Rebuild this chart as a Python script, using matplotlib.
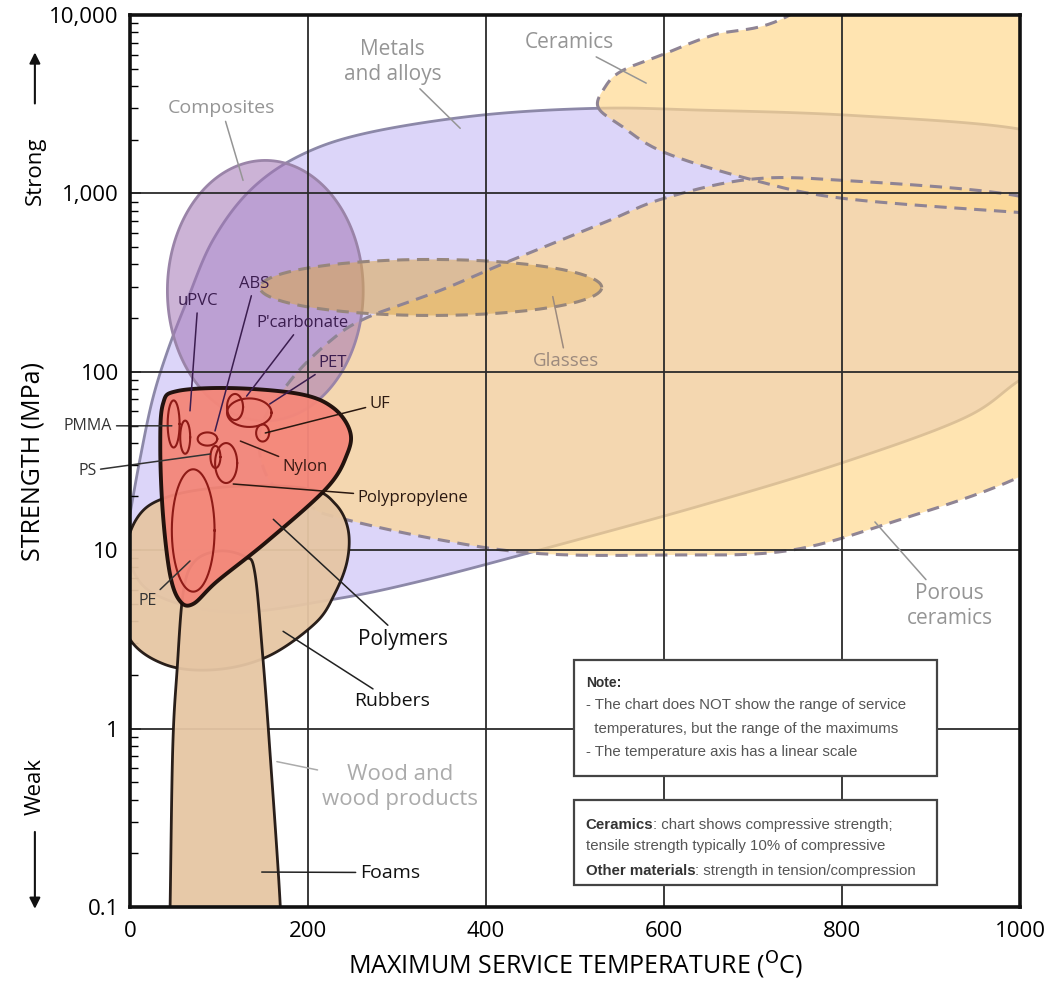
import numpy as np
import matplotlib
matplotlib.use('Agg')
import matplotlib.pyplot as plt
from matplotlib.patches import Rectangle

plt.rcParams['font.family'] = ['Open Sans', 'DejaVu Sans']

# outline points of the material regions: max service temperature (C), strength (MPa)
metals_t = [-6, 0, 11, 25, 42, 64, 93, 135, 191, 266, 393, 526, 640, 809, 1000, 1070,
            1070, 1000, 937, 801, 640, 456, 326, 228, 112, 22]
metals_s = [11, 16, 32, 69, 130, 250, 545, 1040, 1630, 2180, 2740, 3000, 2930, 2740, 2290, 1600,
            150, 90, 55, 31, 17.7, 9.9, 6.7, 5.3, 4.5, 5.9]

ceramics_t = [526, 551, 600, 697, 801, 1001, 1090, 1146, 865, 737, 656, 600, 552, 533]
ceramics_s = [3040, 2410, 1700, 1200, 938, 782, 751, 23200, 26000, 9740, 7730, 6040, 4840, 3890]

porous_t = [1001, 801, 697, 600, 536, 428, 348, 266, 225, 180, 146, 157, 202, 228,
            337, 456, 600, 737, 857, 1001, 1090, 1090]
porous_s = [962, 1183, 1200, 938, 697, 421, 285, 201, 149, 89, 46.7, 24.4, 17.7, 15.5,
            11.7, 9.6, 9.4, 9.9, 14.4, 26, 53, 620]

rubbers_t = [-11, 6, 45, 124, 202, 231, 245, 244, 230, 208, 155, 96, 39, -2]
rubbers_s = [6.7, 14.6, 20.1, 22.9, 22, 18.1, 13.1, 8.7, 5.7, 3.89, 2.54, 2.14, 2.29, 3.29]

wood_t = [43, 45, 48, 53, 60, 73, 101, 129, 140, 149, 157, 169, 171]
wood_s = [0.03, 0.0975, 0.773, 2.17, 5.89, 8.7, 9.9, 9.2, 7.6, 2.6, 0.77, 0.0975, 0.03]

polymers_t = [37, 53, 116, 191, 228, 247, 244, 221, 154, 98, 71, 56, 45, 37, 34]
polymers_s = [66, 78, 81, 75, 63, 46.7, 34.6, 22.3, 11.2, 6.7, 5.0, 5.2, 7.3, 15.9, 37.4]

# elliptical regions: centre temp, centre strength, half-width (C), half-height (decades)
composites_ell = (152, 285, 110, 0.73)
glasses_ell = (338, 297, 192, 0.157)

# individual polymers inside the polymer envelope
poly_t = [49, 62, 118, 134, 149, 87, 96, 108, 71]
poly_s = [51, 43, 63.5, 59, 45.4, 42, 33.3, 30.8, 12.9]
poly_dt = [6.7, 5.6, 9, 25, 7.3, 11, 5.6, 12.4, 24]
poly_dlog = [0.132, 0.093, 0.073, 0.08, 0.048, 0.037, 0.062, 0.112, 0.343]

y_ticks = [0.1, 1, 10, 100, 1000, 10000]
y_ticklabels = ['0.1', '1', '10', '100', '1,000', '10,000']
x_ticks = [0, 200, 400, 600, 800, 1000]


def smooth_closed(t, s, n=30):
    # closed catmull-rom curve through the points, in (temp, log strength) space
    P = np.column_stack([t, np.log10(s)])
    N = len(P)
    u = np.linspace(0, 1, n, endpoint=False)[:, None]
    segs = []
    for i in range(N):
        p0, p1, p2, p3 = P[i - 1], P[i], P[(i + 1) % N], P[(i + 2) % N]
        segs.append(0.5 * (2 * p1 + (-p0 + p2) * u + (2 * p0 - 5 * p1 + 4 * p2 - p3) * u ** 2
                           + (-p0 + 3 * p1 - 3 * p2 + p3) * u ** 3))
    c = np.vstack(segs + [segs[0][:1]])
    return c[:, 0], 10 ** c[:, 1]


def ellipse(t0, s0, a, b, n=200):
    th = np.linspace(0, 2 * np.pi, n)
    return t0 + a * np.cos(th), 10 ** (np.log10(s0) + b * np.sin(th))


fig = plt.figure(figsize=(10.57, 9.93), dpi=100)
ax = fig.add_axes([0.1230, 0.0866, 0.8420, 0.8983])
ax.set_yscale('log')
ax.set_xlim(0, 1000)
ax.set_ylim(0.1, 10000)

dash = (0, (4, 2.5))
yellow = (1.0, 0.85, 0.57, 0.7)

x, y = smooth_closed(metals_t, metals_s)
ax.fill(x, y, facecolor='#dcd5f9', edgecolor='#8c88a8', lw=2, zorder=1)

x, y = smooth_closed(porous_t, porous_s)
ax.fill(x, y, facecolor=yellow, edgecolor='none', zorder=1.5)
ax.plot(x, y, color='#8f8494', lw=2.2, ls=dash, zorder=3.4)

x, y = ellipse(*composites_ell)
ax.fill(x, y, facecolor=(0.64, 0.46, 0.71, 0.55), edgecolor='#9a84a8', lw=2, zorder=2)

x, y = smooth_closed(ceramics_t, ceramics_s)
ax.fill(x, y, facecolor=yellow, edgecolor='none', zorder=3.1)
ax.plot(x, y, color='#8f8494', lw=2.2, ls=dash, zorder=3.4)

x, y = ellipse(*glasses_ell)
ax.fill(x, y, facecolor=(0.86, 0.66, 0.30, 0.55), edgecolor='none', zorder=3.2)
ax.plot(x, y, color='#97867c', lw=2.2, ls=dash, zorder=3.4)

# grid
for v in x_ticks[1:-1]:
    ax.axvline(v, color='#2b2b2b', lw=1.3, zorder=3.5)
for v in y_ticks[1:-1]:
    ax.axhline(v, color='#2b2b2b', lw=1.3, zorder=3.5)

x, y = smooth_closed(rubbers_t, rubbers_s)
ax.fill(x, y, facecolor='#e6c6a4', edgecolor='#1e1410', lw=2, alpha=0.95, zorder=4)

x, y = smooth_closed(wood_t, wood_s)
ax.fill(x, y, facecolor='#e6c6a4', edgecolor='#1e1410', lw=2, alpha=0.95, zorder=5)

x, y = smooth_closed(polymers_t, polymers_s)
ax.fill(x, y, facecolor='#f4877a', edgecolor='#1a0c08', lw=2.8, alpha=0.96, zorder=6)

for t0, s0, a, b in zip(poly_t, poly_s, poly_dt, poly_dlog):
    x, y = ellipse(t0, s0, a, b)
    ax.plot(x, y, color='#8e1a16', lw=1.5, zorder=7)

# labels and leader lines: text, pointed location, label position, colour, size
grey = '#959595'
labels = [
    ('Metals\nand alloys', (371, 2317), (295, 5450), grey, 15),
    ('Ceramics', (580, 4150), (494, 6970), grey, 15),
    ('Composites', (127, 1183), (103, 3000), grey, 14),
    ('Glasses', (475, 264), (490, 115), '#9c8a7e', 13.5),
    ('Porous\nceramics', (837, 14.4), (921, 4.84), grey, 15),
    ('Wood and\nwood products', (165, 0.653), (303, 0.472), '#ababab', 16),
    ('Foams', (148, 0.157), (292, 0.156), '#111111', 14),
    ('Rubbers', (172, 3.51), (295, 1.42), '#111111', 14),
    ('Polymers', (161, 14.9), (307, 3.16), '#111111', 15),
    ('Polypropylene', (116, 23.5), (318, 19.6), '#2a1810', 12),
    ('Nylon', (124, 40.9), (197, 29.2), '#3a1a14', 12),
    ('UF', (152, 45.4), (281, 66.1), '#2a1810', 12),
    ('PET', (157, 66), (228, 112), '#3b1d4f', 12),
    ("P'carbonate", (131, 73), (194, 188), '#3b1d4f', 12),
    ('ABS', (95.5, 46.6), (140, 312), '#3b1d4f', 12),
    ('uPVC', (67.4, 60.4), (76.4, 250), '#3b1d4f', 12),
    ('PMMA', (47, 49.8), (-47, 49.8), '#333333', 11.5),
    ('PS', (90, 34.6), (-48, 27.8), '#333333', 11.5),
    ('PE', (67.4, 8.7), (20, 5.17), '#333333', 11.5),
]
for text, xy, xyt, col, fs in labels:
    lc = col if col not in ('#111111',) else '#222222'
    ax.annotate(text, xy=xy, xytext=xyt, ha='center', va='center', fontsize=fs,
                color=col, linespacing=1.25, zorder=8, annotation_clip=False,
                arrowprops=dict(arrowstyle='-', color=lc, lw=1.1, shrinkA=1, shrinkB=0))

# note boxes
ax.add_patch(Rectangle((0.499, 0.147), 0.408, 0.130, transform=ax.transAxes,
                       facecolor='white', edgecolor='#444444', lw=1.6, zorder=9))
ax.add_patch(Rectangle((0.499, 0.0247), 0.408, 0.0953, transform=ax.transAxes,
                       facecolor='white', edgecolor='#444444', lw=1.6, zorder=9))
nfont = ['Liberation Sans', 'DejaVu Sans']
nsize = 10.8
ax.text(0.512, 0.251, 'Note:', transform=ax.transAxes, fontsize=nsize - 0.8, fontweight='bold',
        color='#333333', family=nfont, va='center', zorder=10)
note_lines = ['- The chart does NOT show the range of service',
              '  temperatures, but the range of the maximums',
              '- The temperature axis has a linear scale']
for i, line in enumerate(note_lines):
    ax.text(0.512, 0.226 - i * 0.026, line, transform=ax.transAxes, fontsize=nsize,
            color='#555555', family=nfont, va='center', zorder=10)

box2 = [('Ceramics', ': chart shows compressive strength;', 0.084),
        ('', 'tensile strength typically 10% of compressive', 0.061),
        ('Other materials', ': strength in tension/compression', 0.033)]
for bold, rest, yy in box2:
    if bold:
        b = ax.text(0.512, yy, bold, transform=ax.transAxes, fontsize=nsize, fontweight='bold',
                    color='#333333', family=nfont, va='bottom', zorder=10)
        ax.annotate(rest, xy=(1, 0), xycoords=b, fontsize=nsize, color='#555555',
                    family=nfont, va='bottom', zorder=10)
    else:
        ax.text(0.512, yy, rest, transform=ax.transAxes, fontsize=nsize, color='#555555',
                family=nfont, va='bottom', zorder=10)

# axes styling
ax.set_yticks(y_ticks)
ax.set_yticklabels(y_ticklabels)
ax.set_xticks(x_ticks)
ax.tick_params(axis='y', which='major', direction='in', length=8, width=1.3, labelsize=16, pad=8)
ax.tick_params(axis='y', which='minor', direction='in', length=6, width=1.0)
ax.tick_params(axis='x', which='major', length=0, labelsize=16, pad=10)
for sp in ax.spines.values():
    sp.set_linewidth(2.6)
    sp.set_color('#111111')
    sp.set_zorder(11)

ax.set_xlabel(r'MAXIMUM SERVICE TEMPERATURE ($^{\rm O}$C)', fontsize=18, labelpad=6)
fig.text(0.031, 0.535, 'STRENGTH (MPa)', rotation=90, fontsize=18, ha='center', va='center')
fig.text(0.033, 0.828, 'Strong', rotation=90, fontsize=16, ha='center', va='center')
fig.text(0.033, 0.208, 'Weak', rotation=90, fontsize=16, ha='center', va='center')
ax.annotate('', xy=(0.033, 0.950), xytext=(0.033, 0.893), xycoords='figure fraction',
            arrowprops=dict(arrowstyle='-|>', color='#111111', lw=1.5, mutation_scale=16))
ax.annotate('', xy=(0.033, 0.082), xytext=(0.033, 0.165), xycoords='figure fraction',
            arrowprops=dict(arrowstyle='-|>', color='#111111', lw=1.5, mutation_scale=16))

fig.savefig('out.png', dpi=100)
